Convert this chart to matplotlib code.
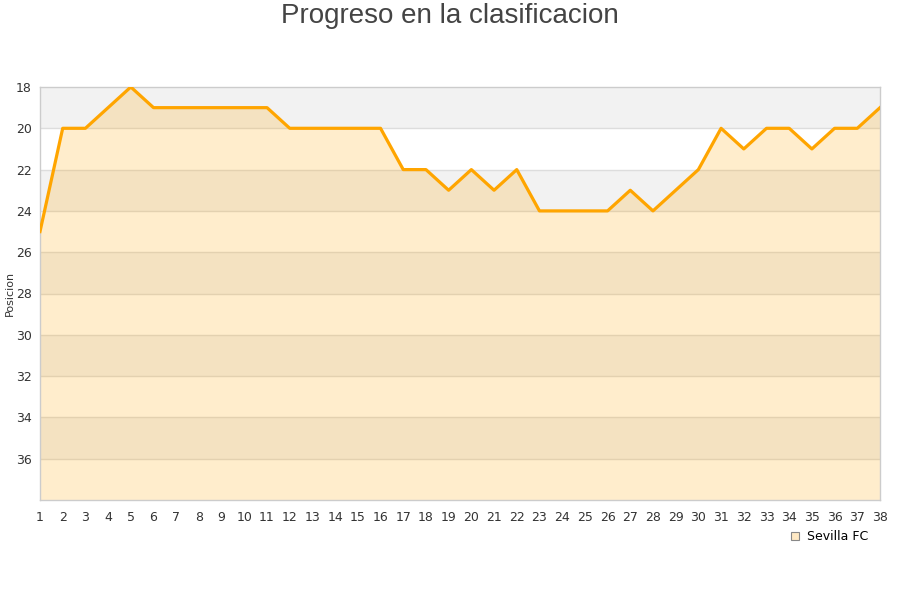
import matplotlib.pyplot as plt
from matplotlib.lines import Line2D

jornadas = list(range(1, 39))
posiciones = [25, 20, 20, 19, 18, 19, 19, 19, 19, 19, 19, 20, 20, 20, 20, 20,
              22, 22, 23, 22, 23, 22, 24, 24, 24, 24, 23, 24, 23, 22, 20, 21,
              20, 20, 21, 20, 20, 19]
equipo = 'Sevilla FC'
y_ticks = list(range(18, 38, 2))

line_color = '#ffa500'

fig = plt.figure(figsize=(9, 6), dpi=100)
ax = fig.add_axes([40 / 900, 1 - 500 / 600, 840 / 900, 413 / 600])

# alternating horizontal bands behind the series
for i, lo in enumerate(range(18, 38, 2)):
    ax.axhspan(lo, lo + 2, color='#f2f2f2' if i % 2 == 0 else 'white', zorder=0, lw=0)
for y in y_ticks[1:]:
    ax.axhline(y, color='#dddddd', lw=1, zorder=1)

ax.fill_between(jornadas, posiciones, 38, color=line_color, alpha=0.2, lw=0, zorder=2)
ax.plot(jornadas, posiciones, color=line_color, lw=2.3, zorder=3)

ax.set_xlim(1, 38)
ax.set_ylim(38, 18)
ax.set_xticks(jornadas)
ax.set_yticks(y_ticks)
ax.tick_params(length=0, labelsize=9, labelcolor='#333333', pad=8)
ax.tick_params(axis='y', pad=6)
for s in ax.spines.values():
    s.set_color('#cccccc')
    s.set_linewidth(1)

fig.text(10 / 900, 1 - 293 / 600, 'Posicion', rotation=90, ha='center', va='center',
         fontsize=8, color='#333333')
fig.text(0.5, 1 - 16 / 600, 'Progreso en la clasificacion', ha='center', va='center',
         fontsize=20, color='#444444', family='Liberation Sans')

handle = Line2D([], [], marker='s', ls='', markersize=6, markerfacecolor='#ffe9c4',
                markeredgecolor='#888888', markeredgewidth=0.8)
fig.legend([handle], [equipo], loc='center', bbox_to_anchor=(828 / 900, 1 - 537 / 600),
           frameon=False, fontsize=9, handletextpad=0.4, handlelength=1.2)

fig.savefig('out.png', dpi=100)
